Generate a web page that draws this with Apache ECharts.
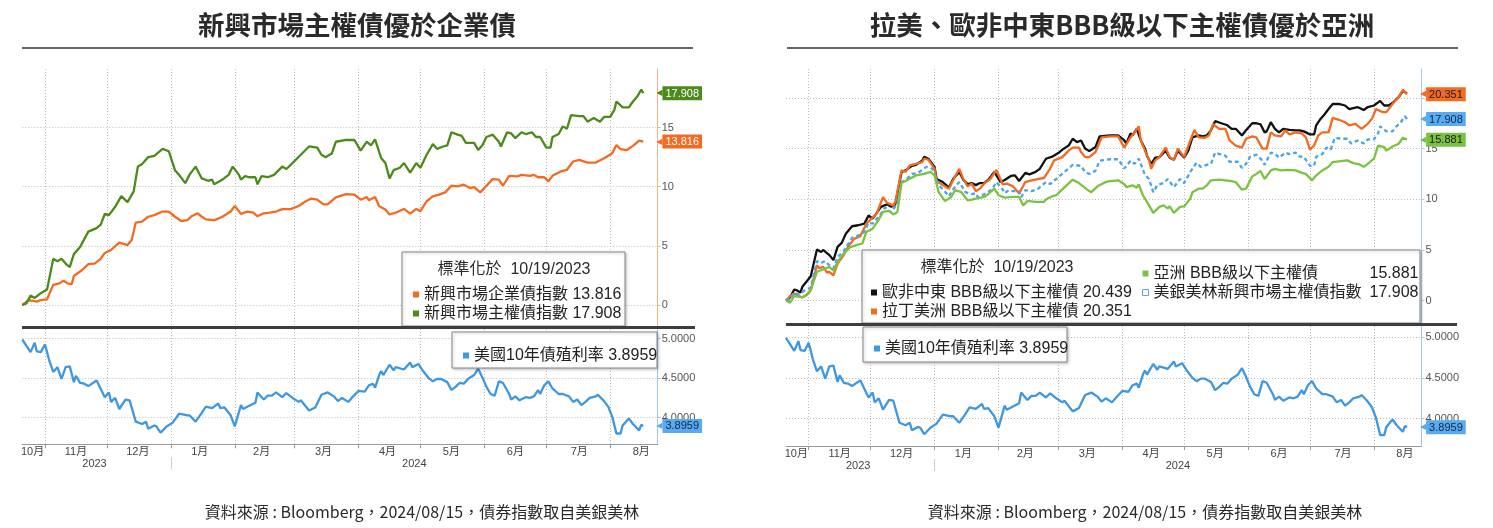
<!DOCTYPE html>
<html>
<head>
<meta charset="utf-8">
<title>新興市場主權債優於企業債</title>
<script src="https://cdn.jsdelivr.net/npm/echarts@6.0.0/dist/echarts.min.js"></script>
<style>
  html, body { margin: 0; padding: 0; background: #fff; }
  #chart { width: 1493px; height: 528px; }
</style>
</head>
<body>
<div id="chart"></div>
<script>
;(function () {
  // ---------- 資料（自圖上讀取，標準化於 10/19/2023） ----------

  // 美銀美林新興市場主權債指數（左圖綠線、右圖藍色虛線）
  var emSov = [
    ['2023-10-19', 0], ['2023-10-21', 0.14], ['2023-10-23', 0.8], ['2023-10-25', 0.6], ['2023-10-28', 1.0], ['2023-10-31', 1.3],
    ['2023-11-03', 3.9], ['2023-11-05', 3.7], ['2023-11-07', 3.9], ['2023-11-09', 3.5], ['2023-11-11', 3.2], ['2023-11-13', 4.3],
    ['2023-11-16', 4.9], ['2023-11-20', 6.2], ['2023-11-24', 6.5], ['2023-11-26', 6.8], ['2023-11-28', 7.7], ['2023-11-30', 7.6],
    ['2023-12-03', 8.3], ['2023-12-06', 9.2], ['2023-12-09', 8.7], ['2023-12-12', 9.6], ['2023-12-14', 11.7], ['2023-12-16', 11.9],
    ['2023-12-19', 12.5], ['2023-12-22', 12.6], ['2023-12-26', 13.2], ['2023-12-29', 13.0],
    ['2024-01-01', 11.4], ['2024-01-03', 11.0], ['2024-01-06', 10.3], ['2024-01-08', 11.0], ['2024-01-11', 11.7], ['2024-01-14', 10.7],
    ['2024-01-17', 10.5], ['2024-01-19', 10.6], ['2024-01-20', 10.2], ['2024-01-22', 10.4], ['2024-01-24', 10.6], ['2024-01-27', 11.0],
    ['2024-01-29', 11.7], ['2024-02-01', 11.0], ['2024-02-02', 10.6], ['2024-02-04', 10.9], ['2024-02-06', 10.8], ['2024-02-09', 10.8],
    ['2024-02-10', 10.2], ['2024-02-12', 10.9], ['2024-02-15', 10.8], ['2024-02-18', 11.0], ['2024-02-22', 11.7], ['2024-02-24', 11.5],
    ['2024-02-27', 12.0], ['2024-03-02', 12.7], ['2024-03-06', 13.4], ['2024-03-10', 13.3], ['2024-03-12', 12.7], ['2024-03-14', 12.5],
    ['2024-03-17', 12.8], ['2024-03-19', 13.8], ['2024-03-24', 13.95], ['2024-03-28', 13.95], ['2024-03-31', 13.05],
    ['2024-04-03', 13.8], ['2024-04-05', 13.5], ['2024-04-07', 14.0], ['2024-04-10', 12.4], ['2024-04-12', 12.0], ['2024-04-14', 10.7],
    ['2024-04-16', 11.4], ['2024-04-19', 11.6], ['2024-04-21', 12.0], ['2024-04-24', 11.2], ['2024-04-27', 12.0], ['2024-04-29', 11.6],
    ['2024-05-02', 12.7], ['2024-05-05', 13.6], ['2024-05-07', 13.2], ['2024-05-10', 13.4], ['2024-05-12', 13.5], ['2024-05-14', 14.6],
    ['2024-05-17', 14.4], ['2024-05-19', 14.3], ['2024-05-21', 13.7], ['2024-05-25', 13.7], ['2024-05-27', 13.1], ['2024-05-29', 13.5],
    ['2024-05-31', 14.2], ['2024-06-03', 14.4], ['2024-06-06', 13.8], ['2024-06-07', 13.4], ['2024-06-10', 14.6], ['2024-06-12', 14.5],
    ['2024-06-14', 14.1], ['2024-06-17', 14.6], ['2024-06-19', 14.45], ['2024-06-22', 14.6], ['2024-06-24', 14.2], ['2024-06-26', 14.2],
    ['2024-06-29', 13.3], ['2024-07-01', 13.3], ['2024-07-02', 14.2], ['2024-07-05', 14.45], ['2024-07-07', 15.1], ['2024-07-09', 14.9],
    ['2024-07-11', 16.05], ['2024-07-15', 15.97], ['2024-07-17', 15.97], ['2024-07-19', 15.5], ['2024-07-22', 15.8], ['2024-07-25', 15.5],
    ['2024-07-27', 15.9], ['2024-07-30', 15.9], ['2024-08-01', 16.5], ['2024-08-02', 17.2], ['2024-08-05', 16.7], ['2024-08-08', 16.7],
    ['2024-08-10', 17.2], ['2024-08-12', 17.6], ['2024-08-14', 18.2], ['2024-08-15', 17.908]
  ]

  // 新興市場企業債指數（左圖橘線）
  var emCorp = [
    ['2023-10-19', 0], ['2023-10-22', 0.4], ['2023-10-24', 0.37], ['2023-10-26', 0.28], ['2023-10-28', 0.42], ['2023-10-31', 0.48],
    ['2023-11-03', 1.7], ['2023-11-06', 1.83], ['2023-11-08', 2.06], ['2023-11-10', 1.83], ['2023-11-12', 1.77], ['2023-11-13', 2.45],
    ['2023-11-17', 2.96], ['2023-11-20', 3.46], ['2023-11-23', 3.5], ['2023-11-26', 3.9], ['2023-11-28', 4.4],
    ['2023-12-01', 4.65], ['2023-12-05', 5.27], ['2023-12-09', 5.07], ['2023-12-11', 5.5], ['2023-12-13', 6.96], ['2023-12-16', 7.04],
    ['2023-12-19', 7.46], ['2023-12-22', 7.6], ['2023-12-26', 7.9], ['2023-12-29', 7.9],
    ['2024-01-01', 7.46], ['2024-01-04', 7.1], ['2024-01-07', 7.18], ['2024-01-09', 7.5], ['2024-01-12', 7.75], ['2024-01-14', 7.46],
    ['2024-01-16', 7.24], ['2024-01-20', 7.18], ['2024-01-21', 7.24], ['2024-01-24', 7.46], ['2024-01-28', 7.9], ['2024-01-30', 8.37],
    ['2024-02-02', 7.7], ['2024-02-05', 7.9], ['2024-02-08', 7.8], ['2024-02-10', 7.5], ['2024-02-13', 7.75], ['2024-02-16', 7.8],
    ['2024-02-19', 7.9], ['2024-02-22', 8.1], ['2024-02-26', 8.1], ['2024-03-01', 8.37], ['2024-03-04', 8.73], ['2024-03-07', 9.0],
    ['2024-03-10', 8.9], ['2024-03-13', 8.5], ['2024-03-15', 8.5], ['2024-03-19', 9.1], ['2024-03-24', 9.38], ['2024-03-28', 9.33],
    ['2024-03-31', 8.9], ['2024-04-03', 9.13], ['2024-04-04', 8.85], ['2024-04-07', 9.13], ['2024-04-09', 8.35], ['2024-04-12', 8.07],
    ['2024-04-14', 7.65], ['2024-04-17', 7.8], ['2024-04-21', 8.12], ['2024-04-24', 7.73], ['2024-04-27', 8.12], ['2024-04-29', 7.93],
    ['2024-05-02', 8.77], ['2024-05-05', 9.19], ['2024-05-08', 9.33], ['2024-05-11', 9.52], ['2024-05-14', 10.08], ['2024-05-17', 10.03],
    ['2024-05-20', 10.17], ['2024-05-23', 9.89], ['2024-05-25', 9.97], ['2024-05-28', 9.52], ['2024-05-31', 10.08],
    ['2024-06-03', 10.64], ['2024-06-06', 10.59], ['2024-06-08', 10.08], ['2024-06-11', 10.92], ['2024-06-15', 10.87], ['2024-06-17', 11.0],
    ['2024-06-21', 10.92], ['2024-06-23', 11.0], ['2024-06-25', 10.8], ['2024-06-28', 10.8], ['2024-06-30', 10.45],
    ['2024-07-02', 10.92], ['2024-07-06', 11.29], ['2024-07-09', 11.43], ['2024-07-12', 12.13], ['2024-07-15', 12.27], ['2024-07-19', 12.04],
    ['2024-07-23', 12.04], ['2024-07-27', 12.4], ['2024-07-31', 12.83], ['2024-08-02', 13.53], ['2024-08-04', 13.17], ['2024-08-07', 13.1],
    ['2024-08-10', 13.45], ['2024-08-13', 13.9], ['2024-08-15', 13.816]
  ]

  // 美國10年債殖利率（兩張圖下半部）
  var ust10y = [
    ['2023-10-19', 4.99], ['2023-10-21', 4.91], ['2023-10-23', 4.83], ['2023-10-25', 4.95], ['2023-10-26', 4.84], ['2023-10-28', 4.83],
    ['2023-10-30', 4.93], ['2023-11-01', 4.73], ['2023-11-03', 4.58], ['2023-11-05', 4.64], ['2023-11-07', 4.49], ['2023-11-09', 4.64],
    ['2023-11-11', 4.65], ['2023-11-13', 4.45], ['2023-11-14', 4.53], ['2023-11-16', 4.44], ['2023-11-18', 4.43], ['2023-11-20', 4.40],
    ['2023-11-24', 4.47], ['2023-11-28', 4.26], ['2023-11-30', 4.32], ['2023-12-01', 4.2], ['2023-12-03', 4.25], ['2023-12-05', 4.11],
    ['2023-12-08', 4.23], ['2023-12-10', 4.22], ['2023-12-13', 3.95], ['2023-12-16', 3.92], ['2023-12-18', 3.95], ['2023-12-19', 3.86],
    ['2023-12-22', 3.9], ['2023-12-23', 3.89], ['2023-12-25', 3.81], ['2023-12-28', 3.89], ['2023-12-31', 3.94],
    ['2024-01-03', 4.05], ['2024-01-07', 4.03], ['2024-01-08', 4.03], ['2024-01-11', 3.95], ['2024-01-14', 4.06], ['2024-01-16', 4.14],
    ['2024-01-19', 4.12], ['2024-01-22', 4.18], ['2024-01-23', 4.12], ['2024-01-25', 4.13], ['2024-01-28', 4.03], ['2024-01-30', 3.89],
    ['2024-02-02', 4.16], ['2024-02-03', 4.11], ['2024-02-06', 4.15], ['2024-02-09', 4.19], ['2024-02-10', 4.32], ['2024-02-13', 4.23],
    ['2024-02-15', 4.28], ['2024-02-17', 4.28], ['2024-02-19', 4.32], ['2024-02-22', 4.26], ['2024-02-24', 4.31], ['2024-02-27', 4.25],
    ['2024-03-01', 4.2], ['2024-03-02', 4.22], ['2024-03-06', 4.09], ['2024-03-09', 4.13], ['2024-03-12', 4.29], ['2024-03-15', 4.32],
    ['2024-03-18', 4.27], ['2024-03-20', 4.21], ['2024-03-22', 4.25], ['2024-03-25', 4.2], ['2024-03-27', 4.26], ['2024-03-30', 4.34],
    ['2024-04-02', 4.33], ['2024-04-04', 4.41], ['2024-04-06', 4.43], ['2024-04-07', 4.38], ['2024-04-09', 4.54], ['2024-04-10', 4.59],
    ['2024-04-11', 4.54], ['2024-04-14', 4.67], ['2024-04-16', 4.6], ['2024-04-17', 4.64], ['2024-04-21', 4.61], ['2024-04-24', 4.70],
    ['2024-04-25', 4.64], ['2024-04-28', 4.68], ['2024-04-30', 4.6], ['2024-05-03', 4.5], ['2024-05-05', 4.46], ['2024-05-07', 4.49],
    ['2024-05-09', 4.49], ['2024-05-12', 4.45], ['2024-05-14', 4.35], ['2024-05-16', 4.39], ['2024-05-18', 4.44], ['2024-05-20', 4.43],
    ['2024-05-22', 4.49], ['2024-05-25', 4.54], ['2024-05-27', 4.62], ['2024-05-29', 4.51], ['2024-05-31', 4.39], ['2024-06-02', 4.3],
    ['2024-06-04', 4.28], ['2024-06-06', 4.46], ['2024-06-08', 4.44], ['2024-06-11', 4.3], ['2024-06-12', 4.23], ['2024-06-14', 4.27],
    ['2024-06-16', 4.22], ['2024-06-19', 4.26], ['2024-06-21', 4.25], ['2024-06-23', 4.27], ['2024-06-25', 4.35], ['2024-06-26', 4.3],
    ['2024-06-28', 4.41], ['2024-06-30', 4.46], ['2024-07-02', 4.37], ['2024-07-05', 4.3], ['2024-07-07', 4.3], ['2024-07-10', 4.27],
    ['2024-07-12', 4.2], ['2024-07-14', 4.23], ['2024-07-16', 4.16], ['2024-07-18', 4.2], ['2024-07-20', 4.25], ['2024-07-23', 4.27],
    ['2024-07-24', 4.29], ['2024-07-27', 4.21], ['2024-07-29', 4.14], ['2024-07-31', 4.01], ['2024-08-02', 3.80], ['2024-08-04', 3.80],
    ['2024-08-05', 3.9], ['2024-08-08', 3.99], ['2024-08-10', 3.92], ['2024-08-13', 3.84], ['2024-08-14', 3.91], ['2024-08-15', 3.8959]
  ]

  // 歐非中東 BBB級以下主權債（右圖黑線）
  var emeaBBB = [
    ['2023-10-19', 0], ['2023-10-21', 0.33], ['2023-10-23', 1.1], ['2023-10-24', 1.05], ['2023-10-26', 0.8], ['2023-10-27', 1.4],
    ['2023-10-29', 1.9], ['2023-10-31', 2.4], ['2023-11-03', 5.05], ['2023-11-05', 4.8], ['2023-11-06', 5.0], ['2023-11-09', 4.5],
    ['2023-11-11', 4.0], ['2023-11-13', 5.3], ['2023-11-15', 5.7], ['2023-11-17', 6.6], ['2023-11-20', 7.34], ['2023-11-23', 7.44],
    ['2023-11-26', 7.6], ['2023-11-28', 8.4], ['2023-11-30', 8.1], ['2023-12-02', 8.66], ['2023-12-04', 9.25], ['2023-12-07', 9.5],
    ['2023-12-09', 9.25], ['2023-12-11', 9.5], ['2023-12-14', 12.7], ['2023-12-16', 12.85], ['2023-12-19', 13.3], ['2023-12-21', 13.4],
    ['2023-12-24', 13.8], ['2023-12-25', 14.2], ['2023-12-27', 14.0], ['2023-12-30', 13.2], ['2023-12-31', 12.0],
    ['2024-01-03', 11.7], ['2024-01-06', 11.15], ['2024-01-08', 12.0], ['2024-01-11', 12.7], ['2024-01-13', 11.9], ['2024-01-15', 11.5],
    ['2024-01-17', 11.6], ['2024-01-19', 11.4], ['2024-01-21', 11.6], ['2024-01-23', 11.6], ['2024-01-25', 11.9], ['2024-01-28', 12.7],
    ['2024-01-31', 11.7], ['2024-02-02', 11.9], ['2024-02-05', 12.3], ['2024-02-07', 12.36], ['2024-02-09', 11.8], ['2024-02-12', 12.6],
    ['2024-02-14', 12.46], ['2024-02-17', 12.7], ['2024-02-19', 13.0], ['2024-02-22', 14.0], ['2024-02-25', 14.2], ['2024-02-28', 14.56],
    ['2024-03-01', 14.9], ['2024-03-04', 15.3], ['2024-03-06', 15.97], ['2024-03-08', 15.64], ['2024-03-10', 15.8], ['2024-03-12', 15.0],
    ['2024-03-14', 14.75], ['2024-03-17', 15.15], ['2024-03-19', 16.2], ['2024-03-24', 16.3], ['2024-03-28', 16.3], ['2024-03-31', 15.8],
    ['2024-04-01', 15.5], ['2024-04-03', 16.5], ['2024-04-04', 16.3], ['2024-04-06', 16.95], ['2024-04-08', 15.8], ['2024-04-10', 15.0],
    ['2024-04-11', 14.3], ['2024-04-13', 13.5], ['2024-04-15', 14.1], ['2024-04-17', 14.16], ['2024-04-20', 14.8], ['2024-04-22', 14.1],
    ['2024-04-24', 13.9], ['2024-04-26', 14.8], ['2024-04-29', 14.1], ['2024-05-01', 14.8], ['2024-05-03', 16.1], ['2024-05-06', 16.3],
    ['2024-05-08', 16.2], ['2024-05-10', 16.3], ['2024-05-12', 16.8], ['2024-05-14', 17.7], ['2024-05-17', 17.5], ['2024-05-20', 17.3],
    ['2024-05-22', 16.95], ['2024-05-24', 16.95], ['2024-05-27', 16.3], ['2024-05-29', 16.8], ['2024-06-01', 17.5], ['2024-06-03', 17.5],
    ['2024-06-05', 17.4], ['2024-06-07', 16.6], ['2024-06-08', 16.7], ['2024-06-10', 17.6], ['2024-06-12', 16.95], ['2024-06-14', 16.6],
    ['2024-06-16', 16.95], ['2024-06-19', 16.85], ['2024-06-22', 16.8], ['2024-06-24', 16.8], ['2024-06-26', 16.7], ['2024-06-29', 16.4],
    ['2024-07-01', 16.4], ['2024-07-02', 17.3], ['2024-07-04', 17.9], ['2024-07-06', 18.36], ['2024-07-08', 18.9], ['2024-07-10', 19.4],
    ['2024-07-13', 19.4], ['2024-07-16', 19.25], ['2024-07-18', 18.9], ['2024-07-22', 19.1], ['2024-07-25', 18.8], ['2024-07-27', 19.1],
    ['2024-07-30', 19.25], ['2024-08-02', 19.7], ['2024-08-04', 19.25], ['2024-08-06', 19.25], ['2024-08-08', 19.5], ['2024-08-11', 20.07],
    ['2024-08-13', 20.7], ['2024-08-15', 20.439]
  ]

  // 拉丁美洲 BBB級以下主權債（右圖橘線）
  var latamBBB = [
    ['2023-10-19', 0], ['2023-10-21', 0.46], ['2023-10-23', 0.72], ['2023-10-25', 0.46], ['2023-10-27', 0.33], ['2023-10-29', 0.56],
    ['2023-10-31', 1.05], ['2023-11-03', 3.5], ['2023-11-04', 3.2], ['2023-11-06', 3.34], ['2023-11-08', 2.75], ['2023-11-09', 2.85],
    ['2023-11-11', 2.5], ['2023-11-13', 3.67], ['2023-11-16', 4.5], ['2023-11-18', 5.3], ['2023-11-21', 6.1], ['2023-11-24', 6.36],
    ['2023-11-27', 7.6], ['2023-11-29', 8.0], ['2023-12-02', 8.6], ['2023-12-05', 10.2], ['2023-12-07', 9.64], ['2023-12-10', 9.4],
    ['2023-12-11', 9.74], ['2023-12-14', 12.85], ['2023-12-16', 12.7], ['2023-12-18', 13.34], ['2023-12-21', 13.5], ['2023-12-24', 13.67],
    ['2023-12-25', 14.0], ['2023-12-27', 13.9], ['2023-12-30', 13.0], ['2023-12-31', 11.8],
    ['2024-01-03', 11.4], ['2024-01-06', 11.05], ['2024-01-08', 11.87], ['2024-01-11', 13.0], ['2024-01-13', 12.0], ['2024-01-15', 11.28],
    ['2024-01-17', 11.54], ['2024-01-19', 10.8], ['2024-01-21', 11.05], ['2024-01-23', 11.54], ['2024-01-26', 12.0], ['2024-01-29', 12.9],
    ['2024-02-01', 11.48], ['2024-02-03', 11.54], ['2024-02-06', 11.28], ['2024-02-09', 10.56], ['2024-02-12', 11.7], ['2024-02-15', 11.87],
    ['2024-02-18', 12.0], ['2024-02-21', 12.1], ['2024-02-24', 13.0], ['2024-02-26', 13.84], ['2024-03-01', 14.16], ['2024-03-04', 14.8],
    ['2024-03-06', 15.1], ['2024-03-09', 15.1], ['2024-03-10', 14.66], ['2024-03-12', 14.16], ['2024-03-14', 14.16], ['2024-03-17', 14.66],
    ['2024-03-20', 16.1], ['2024-03-24', 16.2], ['2024-03-28', 16.2], ['2024-03-31', 15.1], ['2024-04-03', 16.1], ['2024-04-05', 16.6],
    ['2024-04-07', 17.2], ['2024-04-08', 15.8], ['2024-04-10', 14.8], ['2024-04-12', 13.84], ['2024-04-13', 13.0], ['2024-04-15', 13.84],
    ['2024-04-17', 14.16], ['2024-04-20', 15.1], ['2024-04-22', 14.16], ['2024-04-24', 13.9], ['2024-04-26', 15.0], ['2024-04-29', 14.16],
    ['2024-05-02', 15.8], ['2024-05-04', 16.85], ['2024-05-06', 16.1], ['2024-05-09', 16.07], ['2024-05-11', 16.3], ['2024-05-13', 17.4],
    ['2024-05-16', 16.95], ['2024-05-19', 16.95], ['2024-05-21', 15.8], ['2024-05-24', 15.3], ['2024-05-27', 15.1], ['2024-05-29', 15.97],
    ['2024-06-01', 16.2], ['2024-06-03', 16.1], ['2024-06-06', 15.0], ['2024-06-08', 15.0], ['2024-06-10', 16.6], ['2024-06-12', 16.3],
    ['2024-06-15', 16.2], ['2024-06-17', 16.8], ['2024-06-19', 16.4], ['2024-06-22', 16.6], ['2024-06-25', 16.5], ['2024-06-27', 16.1],
    ['2024-06-29', 14.9], ['2024-07-01', 15.3], ['2024-07-03', 16.3], ['2024-07-05', 16.6], ['2024-07-08', 16.6], ['2024-07-10', 18.03],
    ['2024-07-13', 17.84], ['2024-07-16', 17.6], ['2024-07-18', 17.3], ['2024-07-21', 17.44], ['2024-07-24', 16.95], ['2024-07-27', 17.44],
    ['2024-07-29', 17.93], ['2024-07-31', 18.9], ['2024-08-03', 18.6], ['2024-08-05', 18.6], ['2024-08-08', 19.4], ['2024-08-11', 20.07],
    ['2024-08-13', 20.8], ['2024-08-15', 20.351]
  ]

  // 亞洲 BBB級以下主權債（右圖綠線）
  var asiaBBB = [
    ['2023-10-19', 0], ['2023-10-21', -0.2], ['2023-10-23', 0.46], ['2023-10-25', 0.4], ['2023-10-27', 0.33], ['2023-10-30', 0.72],
    ['2023-10-31', 1.05], ['2023-11-03', 2.85], ['2023-11-06', 3.08], ['2023-11-09', 3.34], ['2023-11-11', 2.95], ['2023-11-13', 3.84],
    ['2023-11-16', 4.66], ['2023-11-19', 5.25], ['2023-11-22', 5.48], ['2023-11-25', 5.64], ['2023-11-27', 6.8], ['2023-11-30', 7.1],
    ['2023-12-03', 8.0], ['2023-12-05', 8.75], ['2023-12-08', 8.85], ['2023-12-10', 8.5], ['2023-12-12', 8.75], ['2023-12-14', 11.6],
    ['2023-12-17', 11.93], ['2023-12-21', 12.36], ['2023-12-25', 12.5], ['2023-12-28', 12.7], ['2023-12-30', 12.36],
    ['2024-01-01', 10.7], ['2024-01-04', 9.84], ['2024-01-07', 10.2], ['2024-01-09', 10.9], ['2024-01-12', 10.7], ['2024-01-15', 9.9],
    ['2024-01-17', 9.97], ['2024-01-19', 10.07], ['2024-01-23', 10.23], ['2024-01-25', 10.5], ['2024-01-28', 11.05], ['2024-01-30', 10.4],
    ['2024-02-02', 10.16], ['2024-02-06', 10.23], ['2024-02-09', 10.23], ['2024-02-11', 9.4], ['2024-02-13', 9.84], ['2024-02-17', 9.74],
    ['2024-02-21', 9.74], ['2024-02-22', 9.97], ['2024-02-25', 10.3], ['2024-02-27', 10.4], ['2024-02-29', 10.8], ['2024-03-03', 11.38],
    ['2024-03-06', 11.93], ['2024-03-09', 11.6], ['2024-03-13', 10.95], ['2024-03-15', 10.7], ['2024-03-18', 11.28], ['2024-03-22', 11.7],
    ['2024-03-24', 11.8], ['2024-03-28', 11.87], ['2024-03-31', 11.48], ['2024-04-01', 11.2], ['2024-04-04', 11.38], ['2024-04-06', 11.15],
    ['2024-04-07', 11.48], ['2024-04-09', 10.4], ['2024-04-12', 9.4], ['2024-04-14', 8.66], ['2024-04-17', 9.25], ['2024-04-19', 9.4],
    ['2024-04-21', 9.1], ['2024-04-22', 9.3], ['2024-04-24', 8.66], ['2024-04-27', 9.25], ['2024-04-29', 9.3], ['2024-05-02', 10.07],
    ['2024-05-03', 10.7], ['2024-05-06', 11.05], ['2024-05-08', 11.05], ['2024-05-10', 11.38], ['2024-05-12', 11.87], ['2024-05-16', 11.93],
    ['2024-05-19', 11.87], ['2024-05-22', 11.8], ['2024-05-24', 11.7], ['2024-05-27', 10.95], ['2024-05-29', 11.05], ['2024-06-01', 12.26],
    ['2024-06-03', 12.5], ['2024-06-05', 12.8], ['2024-06-07', 12.0], ['2024-06-10', 12.85], ['2024-06-12', 13.0], ['2024-06-15', 12.85],
    ['2024-06-18', 12.9], ['2024-06-22', 12.85], ['2024-06-25', 12.6], ['2024-06-27', 12.5], ['2024-06-30', 11.87], ['2024-07-02', 12.36],
    ['2024-07-05', 12.85], ['2024-07-08', 13.2], ['2024-07-10', 13.67], ['2024-07-14', 13.77], ['2024-07-17', 13.84], ['2024-07-20', 13.57],
    ['2024-07-23', 13.44], ['2024-07-25', 13.2], ['2024-07-27', 13.5], ['2024-07-30', 14.0], ['2024-08-01', 15.3], ['2024-08-04', 15.15],
    ['2024-08-05', 14.8], ['2024-08-08', 15.2], ['2024-08-11', 15.48], ['2024-08-13', 16.07], ['2024-08-15', 15.881]
  ]

  // ---------- 軸刻度 ----------
  // Bloomberg 的月份分隔線畫在每月 1 日前兩天
  var monthLines = ['2023-10-30', '2023-11-29', '2023-12-30', '2024-01-30', '2024-02-28', '2024-03-30',
    '2024-04-29', '2024-05-30', '2024-06-29', '2024-07-30']
  var monthLabels = [['2023-10-24', '10月'], ['2023-11-14', '11月'], ['2023-12-14', '12月'], ['2024-01-13', '1月'],
    ['2024-02-12', '2月'], ['2024-03-13', '3月'], ['2024-04-13', '4月'], ['2024-05-14', '5月'], ['2024-06-14', '6月'],
    ['2024-07-15', '7月'], ['2024-08-14', '8月']]
  var yearLabels = [['2023-11-23', '2023'], ['2024-04-26', '2024']]
  var yearBreak = '2023-12-30'
  var topTicksLeft = [0, 5, 10, 15]
  var topTicksRight = [0, 5, 10, 15, 20]
  var yieldTicks = [4, 4.5, 5]

  var CJK = '"Liberation Sans", "Noto Sans CJK TC", sans-serif'
  var NARROW = '"Liberation Sans Narrow", "Liberation Sans", "Noto Sans CJK TC", sans-serif'
  var TITLE = '"Noto Sans CJK TC", sans-serif'
  var GRID_COLOR = '#bcbcbc'

  // 每日一個類目（10/19/2023 ~ 8/22/2024）
  var days = []
  for (var t = Date.UTC(2023, 9, 19); t <= Date.UTC(2024, 7, 22); t += 864e5) {
    days.push(new Date(t).toISOString().slice(0, 10))
  }
  var dayIndex = {}
  days.forEach(function (d, i) { dayIndex[d] = i })
  function onAxis(rows) {
    return rows.map(function (r) { return [dayIndex[r[0]], r[1]] })
  }
  function toMap(pairs) {
    var m = {}
    pairs.forEach(function (p) { m[p[0]] = p[1] })
    return m
  }
  var monthText = toMap(monthLabels)
  var yearText = toMap(yearLabels)
  var isMonthLine = {}
  monthLines.forEach(function (d) { isMonthLine[d] = true })

  var lastValue = {
    '新興市場企業債指數': emCorp[emCorp.length - 1][1],
    '新興市場主權債指數': emSov[emSov.length - 1][1],
    '美國10年債殖利率': ust10y[ust10y.length - 1][1],
    '歐非中東 BBB級以下主權債': emeaBBB[emeaBBB.length - 1][1],
    '拉丁美洲 BBB級以下主權債': latamBBB[latamBBB.length - 1][1],
    '亞洲 BBB級以下主權債': asiaBBB[asiaBBB.length - 1][1],
    '美銀美林新興市場主權債指數': emSov[emSov.length - 1][1]
  }

  // ---------- 軸 ----------
  function monthAxis(gridIndex, withLabels) {
    return {
      type: 'category', gridIndex: gridIndex, data: days, boundaryGap: false,
      axisLine: { show: withLabels, lineStyle: { color: '#9a9a9a' } },
      axisTick: {
        show: withLabels, length: 4, lineStyle: { color: '#9a9a9a' },
        interval: function (i, d) { return !!isMonthLine[d] }
      },
      axisLabel: {
        show: withLabels, margin: 2, color: '#444', fontSize: 11, fontFamily: NARROW,
        interval: function (i, d) { return monthText[d] != null },
        formatter: function (d) { return monthText[d] || '' }
      },
      splitLine: {
        show: true, lineStyle: { color: GRID_COLOR, type: [1, 2] },
        interval: function (i, d) { return !!isMonthLine[d] }
      }
    }
  }
  function yearAxis(gridIndex) {
    return {
      type: 'category', gridIndex: gridIndex, data: days, boundaryGap: false, position: 'bottom', offset: 13,
      axisLine: { show: false },
      axisTick: {
        show: true, length: 12, lineStyle: { color: '#cccccc' },
        interval: function (i, d) { return d === yearBreak }
      },
      axisLabel: {
        margin: 1, color: '#444', fontSize: 11, fontFamily: NARROW,
        interval: function (i, d) { return yearText[d] != null },
        formatter: function (d) { return yearText[d] || '' }
      },
      splitLine: { show: false }
    }
  }
  function valueAxis(gridIndex, min, max, split, lineColor, tickValues, labelValues, digits) {
    return {
      type: 'value', gridIndex: gridIndex, position: 'right', min: min, max: max, splitNumber: split,
      axisLine: { show: true, lineStyle: { color: lineColor } },
      axisTick: { show: true, length: 3, customValues: tickValues, lineStyle: { color: lineColor } },
      axisLabel: {
        customValues: labelValues, margin: 4, color: '#555', fontSize: 11, fontFamily: NARROW,
        formatter: function (v) { return digits ? v.toFixed(digits) : String(v) }
      },
      splitLine: { show: true, lineStyle: { color: GRID_COLOR, type: [1, 2] } }
    }
  }

  // ---------- 線 ----------
  function endTag(bg, fg) {
    return {
      show: true, distance: 13,
      formatter: function (p) { return '{a|◀}{b|' + p.value[1] + '}' },
      rich: {
        a: { color: bg, fontSize: 8, fontFamily: '"DejaVu Sans", sans-serif' },
        b: { backgroundColor: bg, color: fg, fontSize: 11, fontFamily: NARROW, padding: [2, 3, 1, 3] }
      }
    }
  }
  function line(name, rows, axis, color, tag, dashed) {
    return {
      name: name, type: 'line', xAxisIndex: axis, yAxisIndex: axis === 0 ? 0 : axis === 1 ? 1 : axis === 3 ? 2 : 3,
      data: onAxis(rows), color: color, showSymbol: false, symbol: 'none', animation: false,
      lineStyle: { color: color, width: 2.3, type: dashed ? [4, 3] : 'solid' },
      endLabel: tag || { show: false }
    }
  }

  // ---------- 圖例框、文字 ----------
  function box(x, y, w, h) {
    return {
      type: 'rect', z: 10, shape: { x: x, y: y, width: w, height: h },
      style: { fill: '#fff', stroke: '#8a8a8a', lineWidth: 1, shadowBlur: 3, shadowOffsetX: 1, shadowOffsetY: 1, shadowColor: 'rgba(0,0,0,0.25)' }
    }
  }
  function label(text, x, y, size, weight, font, z) {
    return {
      type: 'text', z: z || 20,
      style: { text: text, x: x, y: y, textAlign: 'center', textVerticalAlign: 'middle', fontSize: size, fontWeight: weight, fontFamily: font, fill: '#2a2a2a' }
    }
  }
  function legendText() {
    return { fontSize: 16, lineHeight: 19, color: '#222', fontFamily: CJK }
  }

  var myChart = echarts.init(document.getElementById('chart'))

  var option = {
    animation: false,
    grid: [
      { left: 22.3, top: 69, width: 635.4, height: 258 },
      { left: 22.3, top: 329, width: 635.4, height: 115.3 },
      { left: 786, top: 69, width: 635.4, height: 255 },
      { left: 786, top: 326, width: 635.4, height: 120 }
    ],
    xAxis: [
      monthAxis(0, false), monthAxis(1, true), yearAxis(1),
      monthAxis(2, false), monthAxis(3, true), yearAxis(3)
    ],
    yAxis: [
      valueAxis(0, -1.86, 19.95, 5, '#f3b489', topTicksLeft, topTicksLeft, 0),
      valueAxis(1, 3.663, 5.123, 3, '#9ec9ee', yieldTicks, yieldTicks, 4),
      valueAxis(2, -2.3, 22.85, 5, '#a9c8e4', topTicksRight, topTicksLeft, 0),
      valueAxis(3, 3.666, 5.135, 3, '#9ec9ee', yieldTicks, yieldTicks, 4)
    ],
    legend: [
      {
        left: 408, top: 280, orient: 'vertical', itemGap: 0, itemWidth: 6, itemHeight: 6, icon: 'rect',
        selectedMode: false, z: 20, textStyle: legendText(),
        data: ['新興市場企業債指數', '新興市場主權債指數'],
        formatter: function (n) { return n + ' ' + lastValue[n] }
      },
      {
        left: 458, top: 341, orient: 'vertical', itemWidth: 6, itemHeight: 6, icon: 'rect',
        selectedMode: false, z: 20, textStyle: legendText(),
        data: ['美國10年債殖利率'],
        formatter: function (n) { return n + ' ' + lastValue[n] }
      },
      {
        left: 866, top: 278, orient: 'vertical', itemGap: 0, itemWidth: 6, itemHeight: 6, icon: 'rect',
        selectedMode: false, z: 20, textStyle: legendText(),
        data: ['歐非中東 BBB級以下主權債', '拉丁美洲 BBB級以下主權債'],
        formatter: function (n) { return n + ' ' + lastValue[n] }
      },
      {
        left: 1137, top: 259, orient: 'vertical', itemGap: 0, itemWidth: 6, itemHeight: 6, icon: 'rect',
        selectedMode: false, z: 20,
        textStyle: {
          fontSize: 16, lineHeight: 19, color: '#222', fontFamily: CJK,
          rich: {
            n: { width: 216, fontSize: 16, lineHeight: 19, color: '#222', fontFamily: CJK },
            v: { width: 49, align: 'right', fontSize: 16, lineHeight: 19, color: '#222', fontFamily: CJK }
          }
        },
        data: [
          { name: '亞洲 BBB級以下主權債' },
          { name: '美銀美林新興市場主權債指數', itemStyle: { color: '#fff', borderColor: '#5aa8ea', borderWidth: 1 } }
        ],
        formatter: function (n) { return '{n|' + n + '}{v|' + lastValue[n] + '}' }
      },
      {
        left: 869, top: 334, orient: 'vertical', itemWidth: 6, itemHeight: 6, icon: 'rect',
        selectedMode: false, z: 20, textStyle: legendText(),
        data: ['美國10年債殖利率'],
        formatter: function (n) { return n + ' ' + lastValue[n] }
      }
    ],
    graphic: [
      label('新興市場主權債優於企業債', 357, 25, 26.5, 'bold', TITLE),
      label('拉美、歐非中東BBB級以下主權債優於亞洲', 1122, 25, 26.5, 'bold', TITLE),
      { type: 'line', z: 10, shape: { x1: 22, y1: 48, x2: 693, y2: 48 }, style: { stroke: '#333', lineWidth: 1.5 } },
      { type: 'line', z: 10, shape: { x1: 787, y1: 48, x2: 1458, y2: 48 }, style: { stroke: '#333', lineWidth: 1.5 } },
      box(402, 252, 223, 74),
      box(452, 332, 205, 36),
      box(862, 250, 558, 73),
      box(863, 327, 204, 35),
      // 上下兩部分之間的粗分隔線
      { type: 'rect', z: 15, shape: { x: 22, y: 326, width: 673, height: 3 }, style: { fill: '#3d3d3d' } },
      { type: 'rect', z: 15, shape: { x: 786, y: 323, width: 671, height: 3 }, style: { fill: '#3d3d3d' } },
      label('標準化於  10/19/2023', 514, 270, 16, 'normal', CJK),
      label('標準化於  10/19/2023', 997, 268, 16, 'normal', CJK),
      label('資料來源 : Bloomberg，2024/08/15，債券指數取自美銀美林', 422, 512, 16, 'normal', TITLE),
      label('資料來源 : Bloomberg，2024/08/15，債券指數取自美銀美林', 1145, 512, 16, 'normal', TITLE)
    ],
    series: [
      line('新興市場企業債指數', emCorp, 0, '#f26b21', endTag('#f26b21', '#fff')),
      line('新興市場主權債指數', emSov, 0, '#4c8a1c', endTag('#4c8a1c', '#fff')),
      line('美國10年債殖利率', ust10y, 1, '#3f97e0', endTag('#5aaaf0', '#0d2a4a')),
      line('歐非中東 BBB級以下主權債', emeaBBB, 3, '#111111'),
      line('拉丁美洲 BBB級以下主權債', latamBBB, 3, '#f26b21', endTag('#f26b21', '#1a1a1a')),
      line('美銀美林新興市場主權債指數', emSov, 3, '#4da3e8', endTag('#5aaaf0', '#0d2a4a'), true),
      line('亞洲 BBB級以下主權債', asiaBBB, 3, '#7cc242', endTag('#7cc242', '#1a1a1a')),
      line('美國10年債殖利率', ust10y, 4, '#3f97e0', endTag('#5aaaf0', '#0d2a4a'))
    ]
  }

  myChart.setOption(option)
})()
</script>
</body>
</html>
